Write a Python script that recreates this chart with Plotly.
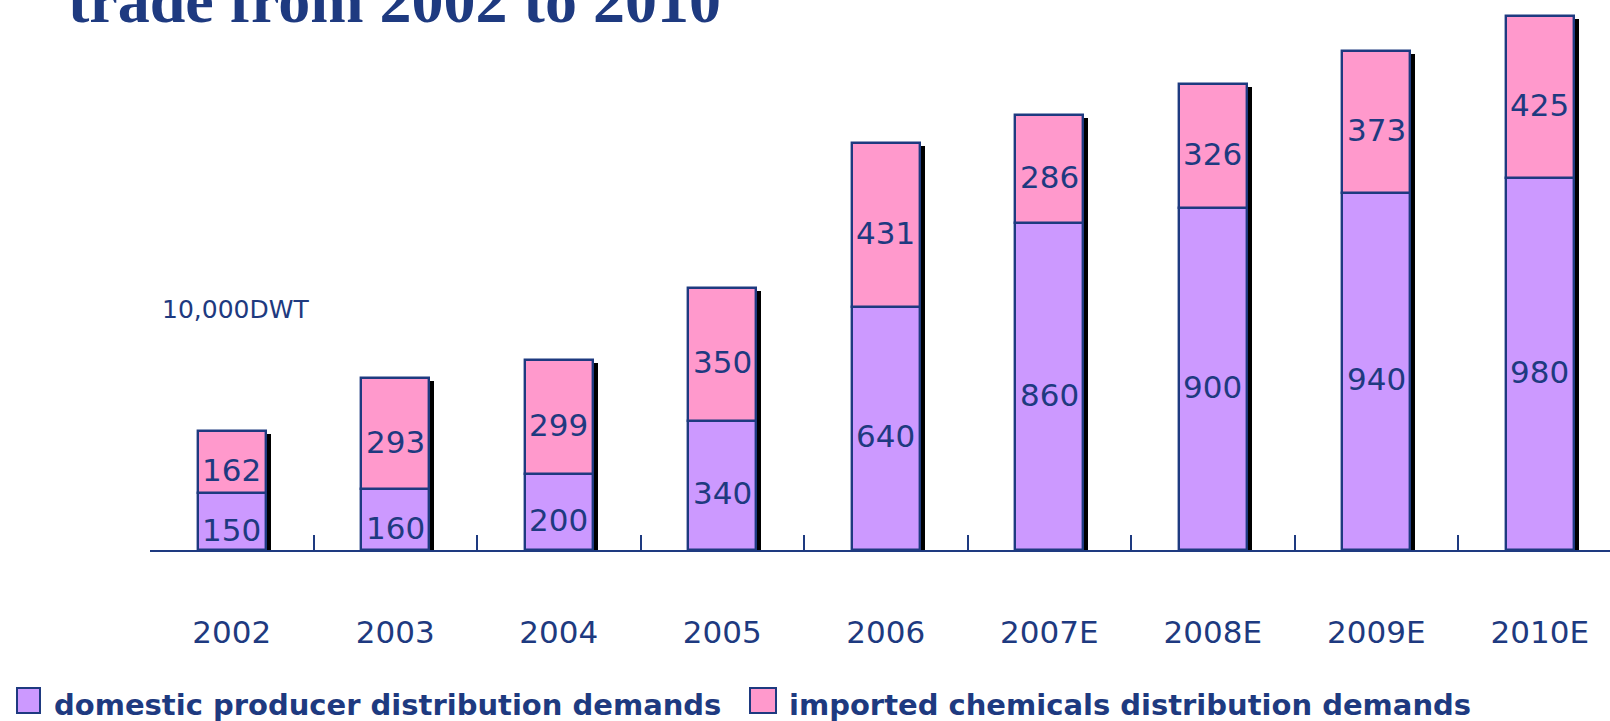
import plotly.graph_objects as go

# ---- data ----
years = ["2002", "2003", "2004", "2005", "2006", "2007E", "2008E", "2009E", "2010E"]
domestic = [150, 160, 200, 340, 640, 860, 900, 940, 980]
imported = [162, 293, 299, 350, 431, 286, 326, 373, 425]
series_names = ["domestic producer distribution demands",
                "imported chemicals distribution demands"]
unit_label = "10,000DWT"
title_text = "trade from 2002 to 2010"

# ---- style ----
NAVY = "#1E3A80"
C_DOM = "#CC99FF"
C_IMP = "#FF99CC"
W, H = 1610, 721
ML, MR, MT, MB = 150, 0, 0, 171
PW, PH = W - ML - MR, H - MT - MB
PX_PER_UNIT = 0.38
YMAX = PH / PX_PER_UNIT
CAT_PX = 163.5
BAR_W = 0.416
SHADOW_DX = 5 / CAT_PX
SHADOW_DY = 3 / PX_PER_UNIT


def pxx(p):
    return (p - ML) / PW


def pxy(p):
    return (MT + PH - p) / PH


totals = [d + i for d, i in zip(domestic, imported)]

fig = go.Figure()
# drop shadows
fig.add_trace(go.Bar(
    x=years, y=[t - SHADOW_DY for t in totals], base=0,
    width=BAR_W, offset=-BAR_W / 2 + SHADOW_DX,
    marker=dict(color="black", line=dict(width=0)),
    showlegend=False, hoverinfo="skip"))
fig.add_trace(go.Bar(
    x=years, y=domestic, base=0, name=series_names[0],
    width=BAR_W, marker=dict(color=C_DOM, line=dict(color=NAVY, width=2.4)),
    showlegend=False))
fig.add_trace(go.Bar(
    x=years, y=imported, base=domestic, name=series_names[1],
    width=BAR_W, marker=dict(color=C_IMP, line=dict(color=NAVY, width=2.4)),
    showlegend=False))

ann = []
lab_font = dict(family="DejaVu Sans", size=31, color=NAVY)
for k, (d, i) in enumerate(zip(domestic, imported)):
    ann.append(dict(x=k, y=d / 2, xref="x", yref="y", text=str(d), showarrow=False,
                    font=lab_font, yshift=-8))
    ann.append(dict(x=k, y=d + i / 2, xref="x", yref="y", text=str(i), showarrow=False,
                    font=lab_font, yshift=-8))

# unit label
ann.append(dict(x=pxx(235), y=pxy(309), xref="paper", yref="paper", text=unit_label,
                showarrow=False, xanchor="center", yanchor="middle",
                font=dict(family="DejaVu Sans", size=25, color=NAVY)))
# title (partly cut off at top, as in the original)
ann.append(dict(x=pxx(66), y=pxy(38), xref="paper", yref="paper", text=title_text,
                showarrow=False, xanchor="left", yanchor="bottom",
                font=dict(family="Liberation Serif", size=64, color=NAVY, weight="bold")))

# manual legend
shapes = []
leg = [(17, 40, 52, C_DOM, series_names[0]), (750, 776, 787, C_IMP, series_names[1])]
for x0, x1, tx, col, name in leg:
    shapes.append(dict(type="rect", xref="paper", yref="paper",
                       x0=pxx(x0), x1=pxx(x1), y0=pxy(713), y1=pxy(688),
                       fillcolor=col, line=dict(color=NAVY, width=2)))
    ann.append(dict(x=pxx(tx), y=pxy(705), xref="paper", yref="paper", text=name,
                    showarrow=False, xanchor="left", yanchor="middle",
                    font=dict(family="DejaVu Sans", size=29, color=NAVY, weight="bold")))

fig.update_layout(
    width=W, height=H,
    margin=dict(l=ML, r=MR, t=MT, b=MB, pad=0),
    paper_bgcolor="white", plot_bgcolor="white",
    barmode="overlay", bargap=0,
    showlegend=False,
    annotations=ann, shapes=shapes,
    xaxis=dict(type="category", categoryorder="array", categoryarray=years,
               range=[-0.5, -0.5 + PW / CAT_PX],
               showline=True, linecolor=NAVY, linewidth=2,
               ticks="inside", ticklen=15, tickwidth=2, tickcolor=NAVY,
               tickson="boundaries", showgrid=False, zeroline=False,
               tickfont=dict(family="DejaVu Sans", size=31, color=NAVY),
               ticklabelstandoff=54),
    yaxis=dict(range=[0, YMAX], showgrid=False, zeroline=False,
               showticklabels=False, showline=False, ticks=""),
)

fig.write_html("out.html", config={"displayModeBar": False},
               post_script="document.body.style.margin='0';document.body.style.overflow='hidden';")
